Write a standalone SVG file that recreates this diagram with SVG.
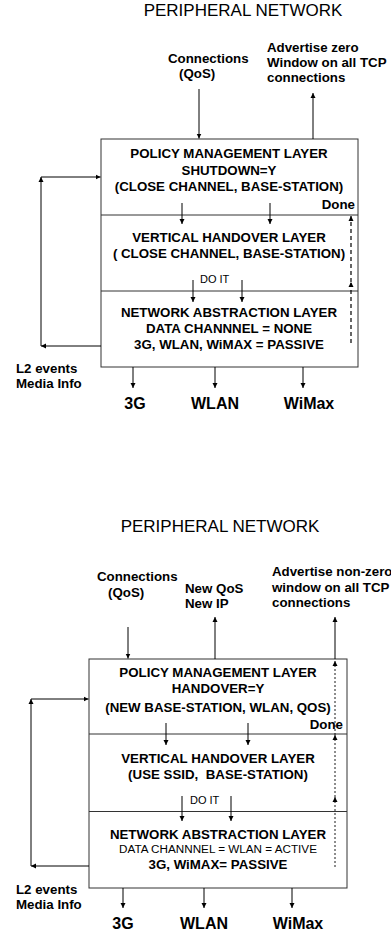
<svg xmlns="http://www.w3.org/2000/svg" width="391" height="934" viewBox="0 0 391 934">
<defs>
<marker id="ah" markerUnits="userSpaceOnUse" markerWidth="6" markerHeight="6" refX="5" refY="3" orient="auto">
<path d="M0,0.5 L5,3 L0,5.5 Z" fill="#000"/>
</marker>
<style>
.t{font-family:"Liberation Sans",Arial,sans-serif;font-size:13.3px;font-weight:bold;fill:#000}
.c{text-anchor:middle}
.r{text-anchor:end}
.title{font-family:"Liberation Sans",Arial,sans-serif;font-size:17px;fill:#000;text-anchor:middle}
.sm{font-family:"Liberation Sans",Arial,sans-serif;font-size:11px;fill:#000}
.reg{font-family:"Liberation Sans",Arial,sans-serif;font-size:11.7px;fill:#000;text-anchor:middle}
.big{font-family:"Liberation Sans",Arial,sans-serif;font-size:16px;font-weight:bold;fill:#000;text-anchor:middle}
.box{fill:#fff;stroke:#333;stroke-width:1}
.div{stroke:#333;stroke-width:1}
.a{stroke:#000;stroke-width:1;fill:none;marker-end:url(#ah)}
.d1{stroke:#000;stroke-width:1.2;fill:none;stroke-dasharray:4 3;marker-end:url(#ah)}
.d2{stroke:#000;stroke-width:0.9;fill:none;stroke-dasharray:2 2;marker-end:url(#ah)}
</style>
</defs>

<g id="top-diagram">
<text class="title" x="243" y="16">PERIPHERAL NETWORK</text>
<g id="top-inputs">
<text class="t" x="168" y="63">Connections</text>
<text class="t" x="179" y="78">(QoS)</text>
<text class="t" x="267" y="52">Advertise zero</text>
<text class="t" x="267" y="67">Window on all TCP</text>
<text class="t" x="267" y="82">connections</text>
</g>
<g id="top-policy">
<rect class="box" x="101" y="139" width="257" height="228"/>
<text class="t c" x="229" y="158">POLICY MANAGEMENT LAYER</text>
<text class="t c" x="229" y="175">SHUTDOWN=Y</text>
<text class="t c" x="229" y="191">(CLOSE CHANNEL, BASE-STATION)</text>
<text class="t r" x="355" y="209">Done</text>
</g>
<g id="top-vertical">
<line class="div" x1="101" y1="215" x2="358" y2="215"/>
<text class="t c" x="229" y="242">VERTICAL HANDOVER LAYER</text>
<text class="t c" x="229" y="258">( CLOSE CHANNEL, BASE-STATION)</text>
<text class="sm" x="200" y="283">DO IT</text>
</g>
<g id="top-nal">
<line class="div" x1="101" y1="291" x2="358" y2="291"/>
<text class="t c" x="229" y="317">NETWORK ABSTRACTION LAYER</text>
<text class="t c" x="229" y="333">DATA CHANNNEL = NONE</text>
<text class="t c" x="229" y="349">3G, WLAN, WiMAX = PASSIVE</text>
</g>
<g id="top-l2">
<text class="t" x="16" y="373">L2 events</text>
<text class="t" x="16" y="388">Media Info</text>
</g>
<g id="top-radios">
<text class="big" x="135" y="409">3G</text>
<text class="big" x="215" y="409">WLAN</text>
<text class="big" x="309" y="409">WiMax</text>
</g>
</g>

<g id="bottom-diagram">
<text class="title" x="220" y="532">PERIPHERAL NETWORK</text>
<g id="bot-inputs">
<text class="t" x="97" y="581">Connections</text>
<text class="t" x="108" y="597">(QoS)</text>
<text class="t" x="185" y="593">New QoS</text>
<text class="t" x="185" y="608">New IP</text>
<text class="t" x="272" y="576">Advertise non-zero</text>
<text class="t" x="272" y="592">window on all TCP</text>
<text class="t" x="272" y="607">connections</text>
</g>
<g id="bot-policy">
<rect class="box" x="89" y="659" width="258" height="229"/>
<text class="t c" x="218" y="677">POLICY MANAGEMENT LAYER</text>
<text class="t c" x="218" y="693">HANDOVER=Y</text>
<text class="t c" x="218" y="712">(NEW BASE-STATION, WLAN, QOS)</text>
<text class="t r" x="343" y="729">Done</text>
</g>
<g id="bot-vertical">
<line class="div" x1="89" y1="734" x2="347" y2="734"/>
<text class="t c" x="218" y="763">VERTICAL HANDOVER LAYER</text>
<text class="t c" x="218" y="779">(USE SSID,&#160; BASE-STATION)</text>
<text class="sm" x="190" y="804">DO IT</text>
</g>
<g id="bot-nal">
<line class="div" x1="89" y1="811.5" x2="347" y2="811.5"/>
<text class="t c" x="218" y="839">NETWORK ABSTRACTION LAYER</text>
<text class="reg" x="218" y="853">DATA CHANNNEL = WLAN = ACTIVE</text>
<text class="t c" x="218" y="869">3G, WiMAX= PASSIVE</text>
</g>
<g id="bot-l2">
<text class="t" x="16" y="894">L2 events</text>
<text class="t" x="16" y="909">Media Info</text>
</g>
<g id="bot-radios">
<text class="big" x="123" y="929">3G</text>
<text class="big" x="204" y="929">WLAN</text>
<text class="big" x="298" y="929">WiMax</text>
</g>
</g>

<g id="connectors">
<line class="a" x1="199" y1="89" x2="199" y2="138.5"/>
<line class="a" x1="313" y1="139" x2="313" y2="93"/>
<line class="a" x1="182" y1="203" x2="182" y2="224"/>
<line class="a" x1="270" y1="203" x2="270" y2="224"/>
<line class="a" x1="193" y1="280" x2="193" y2="302"/>
<line class="a" x1="242" y1="280" x2="242" y2="302"/>
<line class="d1" x1="351" y1="343" x2="351" y2="282"/>
<line class="d1" x1="351" y1="282" x2="351" y2="216"/>
<line class="a" x1="41" y1="346" x2="41" y2="177"/>
<line class="a" x1="41" y1="177" x2="100.5" y2="177"/>
<line class="a" x1="101" y1="346" x2="41" y2="346"/>
<line class="a" x1="133" y1="367" x2="133" y2="388"/>
<line class="a" x1="215" y1="367" x2="215" y2="388"/>
<line class="a" x1="303" y1="367" x2="303" y2="388"/>
<line class="a" x1="128" y1="627" x2="128" y2="658.5"/>
<line class="a" x1="215" y1="659" x2="215" y2="617"/>
<line class="a" x1="335" y1="659" x2="335" y2="617"/>
<line class="d2" x1="335" y1="867" x2="335" y2="797"/>
<line class="d2" x1="335" y1="797" x2="335" y2="735"/>
<line class="d2" x1="335" y1="735" x2="335" y2="661"/>
<line class="a" x1="166" y1="723" x2="166" y2="745"/>
<line class="a" x1="248" y1="723" x2="248" y2="745"/>
<line class="a" x1="182" y1="796" x2="182" y2="821"/>
<line class="a" x1="231" y1="796" x2="231" y2="821"/>
<line class="a" x1="31" y1="866" x2="31" y2="699"/>
<line class="a" x1="31" y1="699" x2="88.5" y2="699"/>
<line class="a" x1="89" y1="866" x2="31" y2="866"/>
<line class="a" x1="123" y1="888" x2="123" y2="908"/>
<line class="a" x1="204" y1="888" x2="204" y2="908"/>
<line class="a" x1="292" y1="888" x2="292" y2="908"/>
</g>
</svg>
